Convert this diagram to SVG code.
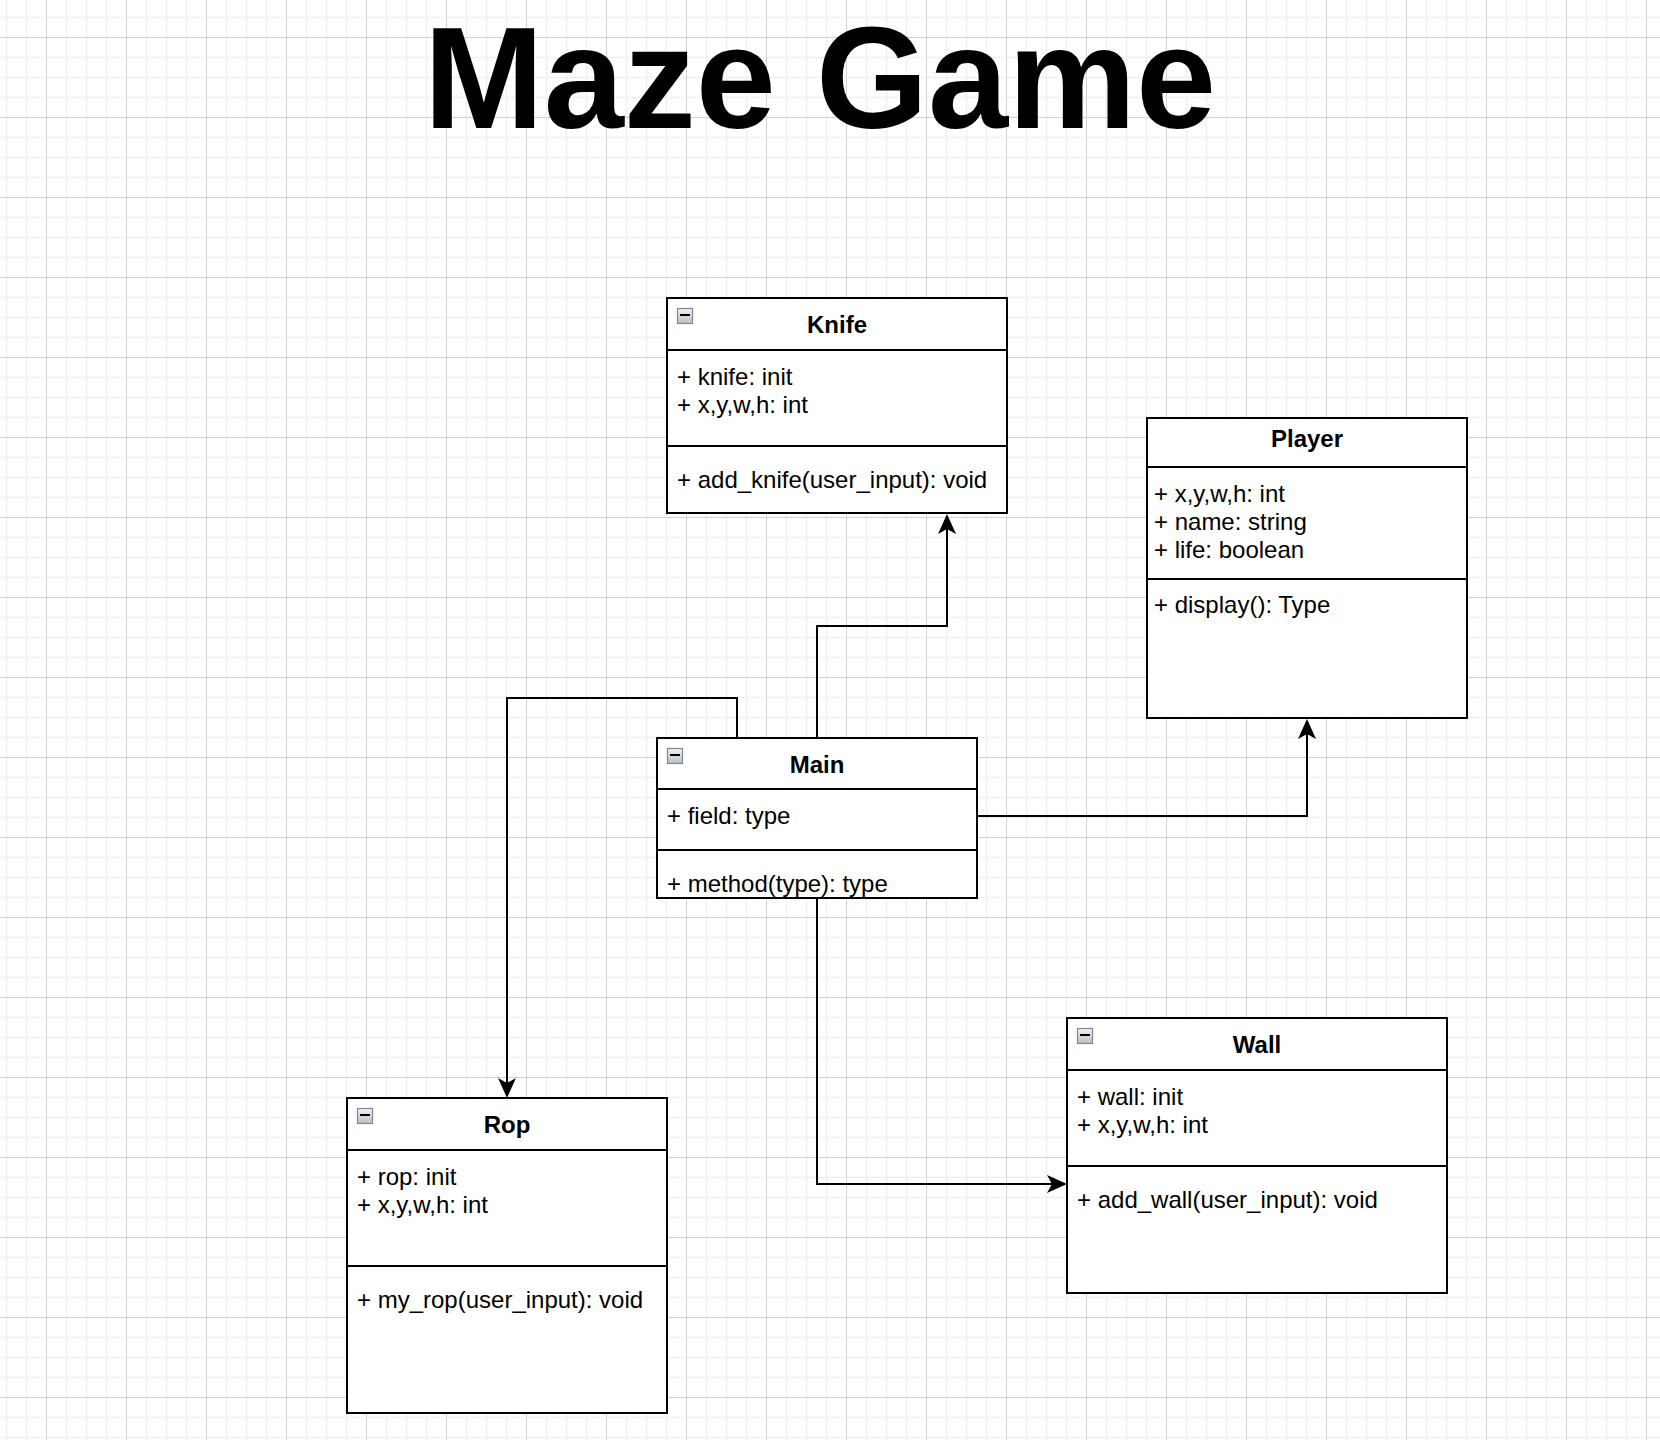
<svg xmlns="http://www.w3.org/2000/svg" width="1660" height="1440" viewBox="0 0 1660 1440">
<style>
.box{fill:#ffffff;stroke:#000000;stroke-width:2}
.sep{stroke:#000000;stroke-width:2}
.t{font-family:"Liberation Sans",Arial,Helvetica,sans-serif;font-size:24px;fill:#000000}
.h{font-family:"Liberation Sans",Arial,Helvetica,sans-serif;font-size:24px;font-weight:bold;fill:#000000;text-anchor:middle}
.title{font-family:"Liberation Sans",Arial,Helvetica,sans-serif;font-size:144px;font-weight:bold;fill:#000000;text-anchor:middle}
.edge{fill:none;stroke:#000000;stroke-width:2}
.icon{fill:url(#ig);stroke:#7d8796;stroke-width:1.2}
.minus{stroke:#000000;stroke-width:2}
</style>
<defs>
<pattern id="grid" patternUnits="userSpaceOnUse" x="46" y="37" width="80" height="80">
<rect width="80" height="80" fill="#ffffff"/>
<path d="M20.5,0V80M40.5,0V80M60.5,0V80M0,20.5H80M0,40.5H80M0,60.5H80" stroke="#f0f0f0" stroke-width="1.5"/>
<path d="M0.5,0V80M0,0.5H80" stroke="#d2d2d2" stroke-width="1"/>
</pattern>
<linearGradient id="ig" x1="0" y1="0" x2="0" y2="1">
<stop offset="0" stop-color="#f2f3f5"/>
<stop offset="1" stop-color="#b9bec6"/>
</linearGradient>
<marker id="arr" markerUnits="userSpaceOnUse" viewBox="0 0 20 18" markerWidth="20" markerHeight="18" refX="5" refY="9" orient="auto">
<path d="M0,0 L20,9 L0,18 L5,9 Z" fill="#000000"/>
</marker>
</defs>
<rect x="0" y="0" width="1660" height="1440" fill="url(#grid)"/>

<text class="title" x="820" y="128">Maze Game</text>

<g id="connectors">
<path class="edge" d="M817,738 V626 H947 V529" marker-end="url(#arr)"/>
<path class="edge" d="M977,816 H1307 V734" marker-end="url(#arr)"/>
<path class="edge" d="M737,738 V698 H507 V1083" marker-end="url(#arr)"/>
<path class="edge" d="M817,898 V1184 H1052" marker-end="url(#arr)"/>
</g>

<g id="knife">
<rect class="box" x="667" y="298" width="340" height="215"/>
<line class="sep" x1="667" y1="350" x2="1007" y2="350"/>
<line class="sep" x1="667" y1="446" x2="1007" y2="446"/>
<rect class="icon" x="677.5" y="308.5" width="15" height="15"/>
<line class="minus" x1="680" y1="315" x2="690" y2="315"/>
<text class="h" x="837" y="333">Knife</text>
<text class="t" x="677" y="385">+ knife: init</text>
<text class="t" x="677" y="413">+ x,y,w,h: int</text>
<text class="t" x="677" y="488">+ add_knife(user_input): void</text>
</g>

<g id="player">
<rect class="box" x="1147" y="418" width="320" height="300"/>
<line class="sep" x1="1147" y1="467" x2="1467" y2="467"/>
<line class="sep" x1="1147" y1="579" x2="1467" y2="579"/>
<text class="h" x="1307" y="447">Player</text>
<text class="t" x="1154" y="502">+ x,y,w,h: int</text>
<text class="t" x="1154" y="530">+ name: string</text>
<text class="t" x="1154" y="558">+ life: boolean</text>
<text class="t" x="1154" y="613">+ display(): Type</text>
</g>

<g id="main">
<rect class="box" x="657" y="738" width="320" height="160"/>
<line class="sep" x1="657" y1="789" x2="977" y2="789"/>
<line class="sep" x1="657" y1="850" x2="977" y2="850"/>
<rect class="icon" x="667.5" y="748.5" width="15" height="15"/>
<line class="minus" x1="670" y1="755" x2="680" y2="755"/>
<text class="h" x="817" y="773">Main</text>
<text class="t" x="667" y="824">+ field: type</text>
<text class="t" x="667" y="892">+ method(type): type</text>
</g>

<g id="rop">
<rect class="box" x="347" y="1098" width="320" height="315"/>
<line class="sep" x1="347" y1="1150" x2="667" y2="1150"/>
<line class="sep" x1="347" y1="1266" x2="667" y2="1266"/>
<rect class="icon" x="357.5" y="1108.5" width="15" height="15"/>
<line class="minus" x1="360" y1="1115" x2="370" y2="1115"/>
<text class="h" x="507" y="1133">Rop</text>
<text class="t" x="357" y="1185">+ rop: init</text>
<text class="t" x="357" y="1213">+ x,y,w,h: int</text>
<text class="t" x="357" y="1308">+ my_rop(user_input): void</text>
</g>

<g id="wall">
<rect class="box" x="1067" y="1018" width="380" height="275"/>
<line class="sep" x1="1067" y1="1070" x2="1447" y2="1070"/>
<line class="sep" x1="1067" y1="1166" x2="1447" y2="1166"/>
<rect class="icon" x="1077.5" y="1028.5" width="15" height="15"/>
<line class="minus" x1="1080" y1="1035" x2="1090" y2="1035"/>
<text class="h" x="1257" y="1053">Wall</text>
<text class="t" x="1077" y="1105">+ wall: init</text>
<text class="t" x="1077" y="1133">+ x,y,w,h: int</text>
<text class="t" x="1077" y="1208">+ add_wall(user_input): void</text>
</g>
</svg>
